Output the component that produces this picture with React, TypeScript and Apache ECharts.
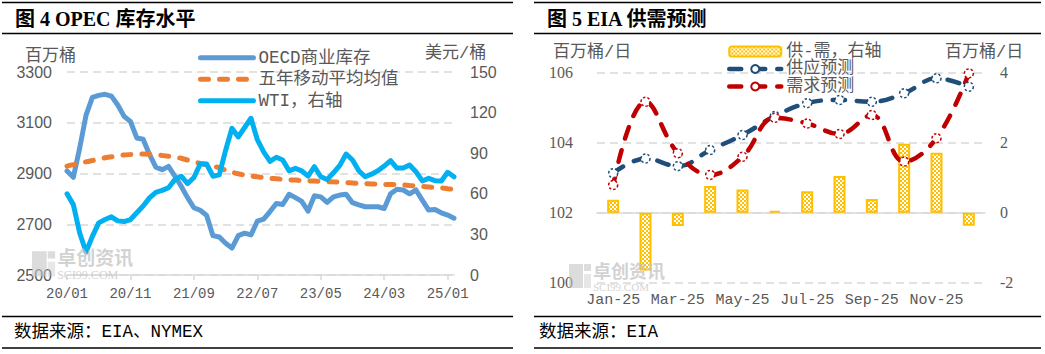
import React, { useEffect, useRef } from 'react';
import * as echarts from 'echarts';

// ---------- Figure 4: OPEC inventory ----------
const monthLabels: string[] = [];
for (let y = 2020; y <= 2025; y++) {
  for (let m = 1; m <= 12; m++) {
    if (y === 2025 && m > 2) break;
    monthLabels.push(`${String(y).slice(2)}/${String(m).padStart(2, '0')}`);
  }
}

const oecdStock = [
  2910, 2885, 3000, 3130, 3200, 3208, 3212, 3205, 3170, 3125,
  3105, 3040, 3035, 2975, 2925, 2915, 2928, 2890, 2850, 2805,
  2765, 2755, 2735, 2655, 2650, 2625, 2606, 2655, 2665, 2658,
  2712, 2720, 2750, 2782, 2778, 2818, 2805, 2790, 2752, 2812,
  2808, 2786, 2808, 2815, 2818, 2785, 2776, 2769, 2769, 2769,
  2762, 2820, 2838, 2835, 2820, 2835, 2795, 2756, 2758, 2745,
  2736, 2724,
];

const fiveYearAvg = [
  2929, 2935, 2940, 2946, 2951, 2956, 2962, 2966, 2970, 2973,
  2975, 2977, 2977, 2976, 2974, 2971, 2968, 2965, 2960, 2953,
  2946, 2940, 2935, 2930, 2922, 2913, 2905, 2899, 2894, 2890,
  2887, 2884, 2881, 2879, 2877, 2875, 2874, 2872, 2871, 2870,
  2869, 2868, 2867, 2866, 2864, 2863, 2861, 2860, 2859, 2858,
  2857, 2857, 2856, 2855, 2853, 2851, 2849, 2847, 2845, 2843,
  2840, 2837,
];

const wti = [
  60, 52, 31, 17, 28.5, 38.5, 41, 43, 40, 39.5,
  41, 46, 51, 57, 61, 62.5, 64.5, 70.5, 73, 67.5,
  72, 82, 82, 73, 74, 92, 108.4, 102, 109, 115.8,
  100, 91, 84, 87, 85, 77, 78.8, 77, 73, 80,
  72.6, 70.5, 75.5, 81, 89.4, 85, 77, 72.6, 74.5, 77,
  80.5, 84.5, 79, 79, 81.3, 76.3, 69.5, 71.4, 69.7, 69.5,
  75.9, 72.6,
];

const stockBase = 2500;
const stockTicks = ['2500', '2700', '2900', '3100', '3300'];

// ---------- Figure 5: EIA supply / demand ----------
const months25 = ['Jan-25', 'Feb-25', 'Mar-25', 'Apr-25', 'May-25', 'Jun-25', 'Jul-25', 'Aug-25', 'Sep-25', 'Oct-25', 'Nov-25', 'Dec-25'];
const supplyForecast = [103.13, 103.55, 103.33, 103.79, 104.22, 104.76, 105.13, 105.22, 105.17, 105.41, 105.84, 105.6];
const demandForecast = [102.79, 105.17, 103.7, 103.08, 103.6, 104.71, 104.55, 104.25, 104.79, 103.46, 104.13, 105.98];
const balance = [0.37, -1.65, -0.38, 0.76, 0.66, 0.05, 0.61, 1.05, 0.39, 1.97, 1.71, -0.37];

const GRAY = '#595959';
const GRID_GRAY = '#D9D9D9';
const MONO = '"Liberation Mono", "Noto Sans CJK SC", monospace';
const CJK = '"Liberation Mono", "Noto Sans CJK SC", sans-serif';

function makeChecker(): HTMLCanvasElement {
  const c = document.createElement('canvas');
  c.width = 4;
  c.height = 4;
  const ctx = c.getContext('2d')!;
  ctx.fillStyle = '#ffffff';
  ctx.fillRect(0, 0, 4, 4);
  ctx.fillStyle = '#FFC000';
  ctx.fillRect(0, 0, 2, 2);
  ctx.fillRect(2, 2, 2, 2);
  return c;
}

function hline(x1: number, x2: number, y: number, w = 1.5) {
  return { type: 'line', shape: { x1, y1: y, x2, y2: y }, style: { stroke: '#000', lineWidth: w }, silent: true };
}

function txt(x: number, y: number, text: string, opts: any = {}) {
  return {
    type: 'text', x, y, silent: true,
    style: { text, fill: opts.fill || GRAY, font: opts.font, textAlign: opts.align || 'left', textVerticalAlign: 'middle', opacity: opts.opacity ?? 1 },
    z: opts.z ?? 10,
  };
}

function watermark(x: number, y: number, s: number) {
  const c = '#c4c4c4';
  return [
    { type: 'rect', shape: { x, y: y + 4 * s, width: 14 * s, height: 24 * s }, style: { fill: c, opacity: 0.6 }, z: 20, silent: true },
    { type: 'rect', shape: { x: x + 15 * s, y: y + 4 * s, width: 7 * s, height: 7 * s }, style: { fill: c, opacity: 0.6 }, z: 20, silent: true },
    { type: 'rect', shape: { x: x + 15 * s, y: y + 14 * s, width: 7 * s, height: 14 * s }, style: { fill: c, opacity: 0.4 }, z: 20, silent: true },
    txt(x + 24 * s, y + 9.5 * s, '卓创资讯', { fill: c, font: `bold ${Math.round(18 * s)}px "Noto Sans CJK SC"`, z: 20, opacity: 0.75 }),
    txt(x + 24 * s, y + 26.5 * s, 'SCI99.COM', { fill: c, font: `${Math.round(11 * s)}px "Liberation Serif"`, z: 20, opacity: 0.75 }),
  ];
}

export default function App() {
  const ref = useRef<HTMLDivElement>(null);

  useEffect(() => {
    if (!ref.current) return;
    const chart = echarts.init(ref.current, undefined, { renderer: 'svg' });
    const checker = makeChecker();
    const gridSplit = { show: true, lineStyle: { color: GRID_GRAY, type: [8, 5], width: 1.5 } };
    const axisLabelSans = { color: GRAY, fontFamily: '"Liberation Sans", Arial, sans-serif', fontSize: 16 };
    const axisLabelSerif = { color: GRAY, fontFamily: '"Liberation Serif", serif', fontSize: 16 };

    const option: any = {
      animation: false,
      backgroundColor: '#ffffff',
      grid: [
        { left: 67, top: 72, width: 387, height: 203 },
        { left: 597, top: 72.7, width: 388, height: 210 },
      ],
      legend: [
        {
          orient: 'vertical', left: 193, top: 44, itemWidth: 53, itemHeight: 14, itemGap: 4,
          data: ['OECD商业库存', '五年移动平均均值', 'WTI，右轴'],
          itemStyle: { color: 'rgba(0,0,0,0)', borderWidth: 0, opacity: 0 },
          lineStyle: { width: 5, cap: 'round' },
          textStyle: { color: GRAY, fontFamily: CJK, fontSize: 17.5 },
        },
        {
          orient: 'vertical', left: 722, top: 38, itemWidth: 52, itemHeight: 10, itemGap: 0.5,
          data: ['供-需，右轴', '供应预测', '需求预测'],
          lineStyle: { width: 4.5, cap: 'round' },
          textStyle: { color: GRAY, fontFamily: CJK, fontSize: 17 },
        },
      ],
      xAxis: [
        {
          gridIndex: 0, type: 'category', data: monthLabels, boundaryGap: false,
          axisLine: { lineStyle: { color: GRID_GRAY, width: 1.5 } },
          axisTick: { interval: 9, length: 5, lineStyle: { color: GRID_GRAY, width: 1.5 } },
          axisLabel: { interval: 9, color: GRAY, fontFamily: MONO, fontSize: 14, margin: 12 },
        },
        {
          gridIndex: 1, type: 'category', data: months25, boundaryGap: true,
          axisLine: { lineStyle: { color: GRID_GRAY, width: 1.5 } },
          axisTick: { interval: 0, length: 5, lineStyle: { color: GRID_GRAY, width: 1.5 } },
          axisLabel: { interval: 1, color: GRAY, fontFamily: MONO, fontSize: 15, margin: 10 },
        },
      ],
      yAxis: [
        {
          gridIndex: 0, type: 'value', min: 0, max: 800, interval: 200,
          axisLabel: { ...axisLabelSans, margin: 15, formatter: (v: number) => stockTicks[Math.round(v / 200)] },
          splitLine: gridSplit, axisLine: { show: false }, axisTick: { show: false },
        },
        {
          gridIndex: 0, type: 'value', min: 0, max: 150, interval: 30, position: 'right',
          axisLabel: { ...axisLabelSans, margin: 16 },
          splitLine: { show: false }, axisLine: { show: false }, axisTick: { show: false },
        },
        {
          gridIndex: 1, type: 'value', min: 100, max: 106, interval: 2,
          axisLabel: { ...axisLabelSerif, margin: 24 },
          splitLine: gridSplit, axisLine: { show: false }, axisTick: { show: false },
        },
        {
          gridIndex: 1, type: 'value', min: -2, max: 4, interval: 2, position: 'right',
          axisLabel: { ...axisLabelSerif, margin: 15 },
          splitLine: { show: false }, axisLine: { show: false }, axisTick: { show: false },
        },
      ],
      series: [
        {
          name: 'OECD商业库存', type: 'line', xAxisIndex: 0, yAxisIndex: 0,
          data: oecdStock.map((v) => v - stockBase), symbol: 'none',
          lineStyle: { color: '#5B9BD5', width: 5, cap: 'round', join: 'round' }, itemStyle: { color: '#5B9BD5' },
        },
        {
          name: '五年移动平均均值', type: 'line', xAxisIndex: 0, yAxisIndex: 0,
          data: fiveYearAvg.map((v) => v - stockBase), symbol: 'none', smooth: 0.3,
          lineStyle: { color: '#ED7D31', width: 5, type: [8, 11], cap: 'round' }, itemStyle: { color: '#ED7D31' },
        },
        {
          name: 'WTI，右轴', type: 'line', xAxisIndex: 0, yAxisIndex: 1,
          data: wti, symbol: 'none',
          lineStyle: { color: '#00B0F0', width: 5, cap: 'round', join: 'round' }, itemStyle: { color: '#00B0F0' },
        },
        {
          name: '供-需，右轴', type: 'bar', xAxisIndex: 1, yAxisIndex: 3, data: balance, barWidth: 12,
          itemStyle: { color: { image: checker, repeat: 'repeat' }, borderColor: '#FFC000', borderWidth: 2 },
        },
        {
          name: '供应预测', type: 'line', xAxisIndex: 1, yAxisIndex: 2, data: supplyForecast, smooth: 0.4,
          symbol: 'circle', symbolSize: 9, showSymbol: true,
          lineStyle: { color: '#1F4E79', width: 4.5, type: [12, 12], cap: 'round' },
          itemStyle: { color: '#ffffff', borderColor: '#1F4E79', borderWidth: 1.5, borderType: [2.5, 2] },
        },
        {
          name: '需求预测', type: 'line', xAxisIndex: 1, yAxisIndex: 2, data: demandForecast, smooth: 0.4,
          symbol: 'circle', symbolSize: 9, showSymbol: true,
          lineStyle: { color: '#C00000', width: 4.5, type: [12, 12], cap: 'round' },
          itemStyle: { color: '#ffffff', borderColor: '#C00000', borderWidth: 1.5, borderType: [2.5, 2] },
        },
      ],
      graphic: [
        hline(2, 513, 2.5), hline(2, 513, 33.5), hline(2, 513, 316.5), hline(2, 513, 348),
        hline(534, 1041, 2.5), hline(534, 1041, 33.5), hline(534, 1041, 316.5), hline(534, 1041, 348),
        txt(15, 19, '图 4 OPEC 库存水平', { fill: '#000', font: 'bold 20px "Liberation Serif", "Noto Sans CJK SC"' }),
        txt(547, 19, '图 5 EIA 供需预测', { fill: '#000', font: 'bold 20px "Liberation Serif", "Noto Sans CJK SC"' }),
        txt(14, 332, '数据来源：EIA、NYMEX', { fill: '#000', font: '17.5px "Liberation Mono", "Noto Sans CJK SC"' }),
        txt(539, 332, '数据来源：EIA', { fill: '#000', font: '17.5px "Liberation Mono", "Noto Sans CJK SC"' }),
        txt(25, 53, '百万桶', { font: '17px "Noto Sans CJK SC"' }),
        txt(425, 53, '美元/桶', { font: '17px "Liberation Mono", "Noto Sans CJK SC"' }),
        txt(553, 52, '百万桶/日', { font: '17px "Liberation Mono", "Noto Sans CJK SC"' }),
        txt(945, 52, '百万桶/日', { font: '17px "Liberation Mono", "Noto Sans CJK SC"' }),
        ...watermark(32, 247, 1.05),
        ...watermark(569, 260, 1.0),
      ],
    };
    chart.setOption(option);
    return () => chart.dispose();
  }, []);

  return <div ref={ref} style={{ position: 'absolute', left: 0, top: 0, width: 1045, height: 354, background: '#fff' }} />;
}
